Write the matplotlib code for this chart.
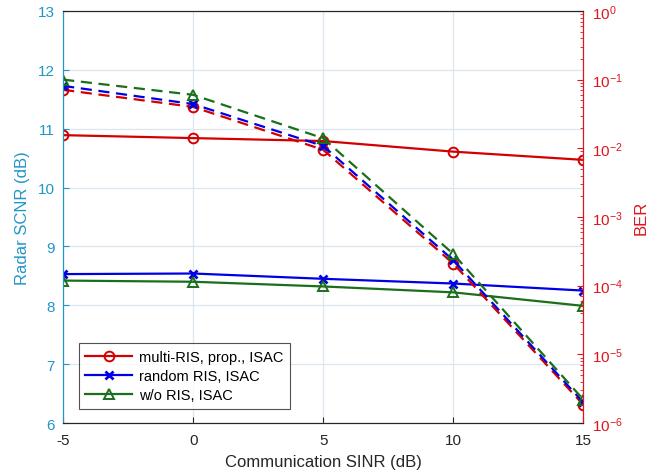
import numpy as np
import matplotlib
matplotlib.use("Agg")
import matplotlib.pyplot as plt

plt.rcParams['font.family'] = ['Liberation Sans', 'DejaVu Sans']
plt.rcParams['mathtext.fontset'] = 'custom'
plt.rcParams['mathtext.rm'] = 'Liberation Sans'
plt.rcParams['axes.unicode_minus'] = False

sinr = [-5, 0, 5, 10, 15]

# radar SCNR (dB), left axis
scnr_multi = [10.89, 10.84, 10.79, 10.61, 10.47]
scnr_random = [8.53, 8.54, 8.45, 8.37, 8.25]
scnr_noris = [8.42, 8.40, 8.32, 8.22, 7.99]

# BER, right axis
ber_multi = [0.071, 0.040, 0.0095, 2.1e-4, 1.85e-6]
ber_random = [0.081, 0.044, 0.0108, 2.35e-4, 2.0e-6]
ber_noris = [0.100, 0.060, 0.014, 2.9e-4, 2.2e-6]

labels = ["multi-RIS, prop., ISAC", "random RIS, ISAC", "w/o RIS, ISAC"]

c_red = "#D40000"
c_blue = "#0000E6"
c_green = "#1B6E1B"
c_left = "#2196C8"
c_right = "#E0141E"

fig = plt.figure(figsize=(6.72, 4.77), dpi=100)
ax = fig.add_axes([0.094, 0.111, 0.774, 0.864])
ax2 = ax.twinx()

mk = dict(markersize=7, markerfacecolor="none", markeredgewidth=1.4, linewidth=1.6)
h1, = ax.plot(sinr, scnr_multi, "-o", color=c_red, label=labels[0], **mk)
h2, = ax.plot(sinr, scnr_random, "-x", color=c_blue, label=labels[1],
              **{**mk, "markersize": 5.5, "markeredgewidth": 2})
h3, = ax.plot(sinr, scnr_noris, "-^", color=c_green, label=labels[2], **mk)

ax2.plot(sinr, ber_multi, "--o", color=c_red, dashes=(5, 3), **mk)
ax2.plot(sinr, ber_random, "--x", color=c_blue, dashes=(5, 3),
         **{**mk, "markersize": 5.5, "markeredgewidth": 2})
ax2.plot(sinr, ber_noris, "--^", color=c_green, dashes=(5, 3), **mk)

ax.set_xlim(-5, 15)
ax.set_ylim(6, 13)
ax.set_xticks(sinr)
ax.set_yticks(range(6, 14))
ax2.set_yscale("log")
ax2.set_ylim(1e-6, 1e0)
ax2.set_yticks([10.0 ** k for k in range(-6, 1)])

ax.grid(True, color="#DCE6EE", linewidth=0.9)
ax.set_axisbelow(True)

ax.tick_params(axis="x", direction="in", colors="#262626", labelsize=11, length=4, pad=7)
ax.tick_params(axis="y", direction="in", colors=c_left, labelsize=11, length=4, pad=6)
ax2.tick_params(axis="y", which="both", direction="in", colors=c_right, labelsize=11, pad=6)
ax2.tick_params(axis="y", which="major", length=4)
ax2.tick_params(axis="y", which="minor", length=2)

for a in (ax, ax2):
    a.spines["left"].set_color(c_left)
    a.spines["right"].set_color(c_right)
    a.spines["bottom"].set_color("#262626")
    a.spines["top"].set_color("#262626")
    for s in a.spines.values():
        s.set_linewidth(0.8)

ax.set_xlabel("Communication SINR (dB)", fontsize=12, color="#262626", labelpad=5)
ax.set_ylabel("Radar SCNR (dB)", fontsize=12, color=c_left, labelpad=6)
ax2.set_ylabel("BER", fontsize=12, color=c_right, labelpad=8)

leg = ax2.legend(handles=[h1, h2, h3], loc="lower left", bbox_to_anchor=(0.03, 0.035),
                 fontsize=10.5, frameon=True, fancybox=False, edgecolor="#262626",
                 handlelength=3.2, borderpad=0.45, labelspacing=0.35, handletextpad=0.5,
                 borderaxespad=0.0)
leg.get_frame().set_linewidth(0.8)

fig.savefig("out.png", dpi=100)
